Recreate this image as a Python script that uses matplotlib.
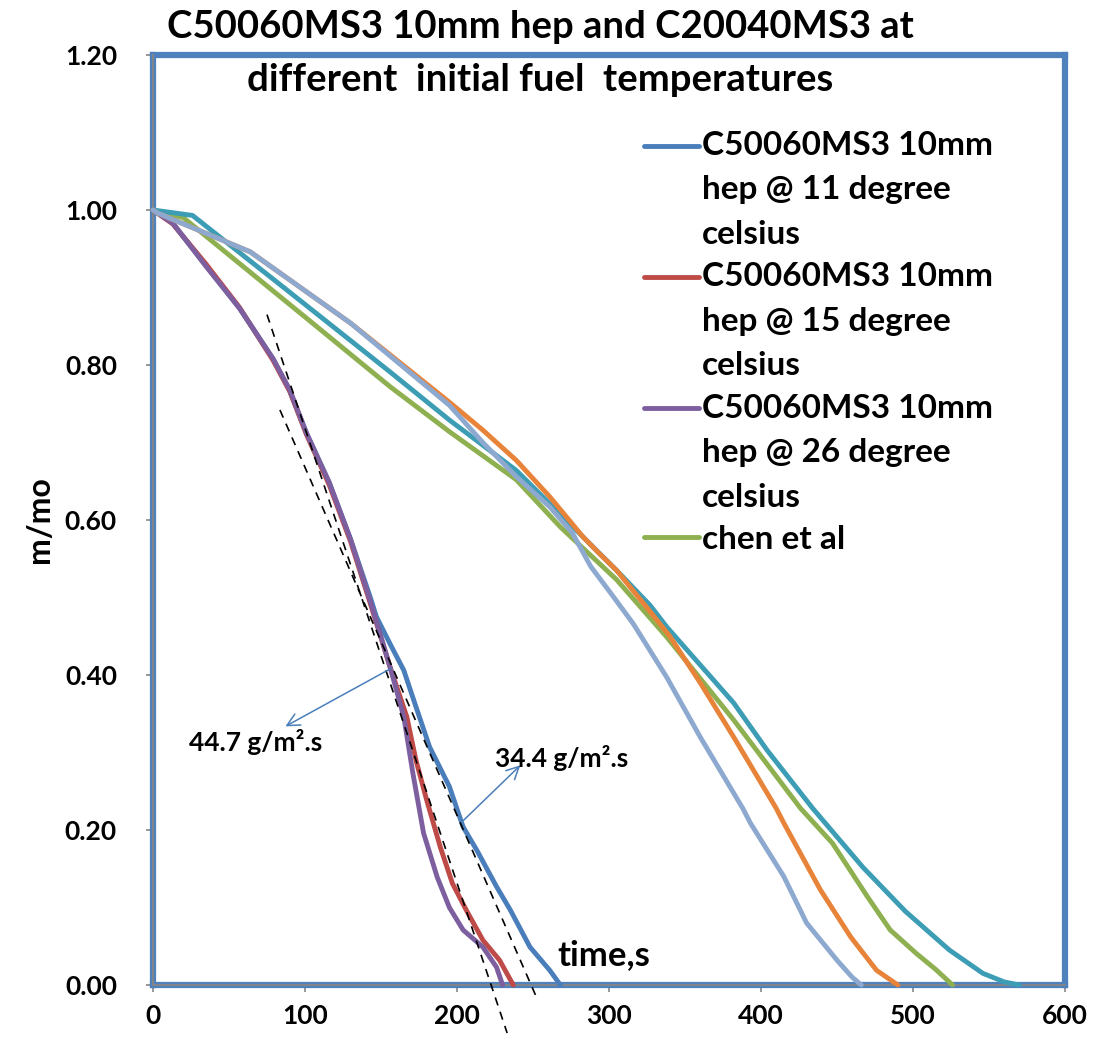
import matplotlib
matplotlib.use("Agg")
import matplotlib.pyplot as plt
from matplotlib.legend_handler import HandlerLine2D
import numpy as np

# ---------------- data ----------------
t_11 = [0, 13, 35, 57, 79, 90, 101, 116, 130, 143, 147, 156, 165, 173, 182, 195, 204, 213, 226, 235, 248, 261, 268]
m_11 = [1.0, 0.983, 0.928, 0.873, 0.808, 0.766, 0.712, 0.648, 0.575, 0.50, 0.475, 0.44, 0.406, 0.359, 0.307, 0.256, 0.204, 0.174, 0.127, 0.097, 0.049, 0.019, 0.0]

t_15 = [0, 13, 35, 57, 79, 90, 101, 116, 130, 143, 156, 167, 173, 180, 189, 197, 206, 217, 228, 237]
m_15 = [1.0, 0.982, 0.93, 0.874, 0.806, 0.766, 0.71, 0.645, 0.572, 0.492, 0.41, 0.346, 0.29, 0.239, 0.178, 0.131, 0.097, 0.058, 0.032, 0.0]

t_26 = [0, 13, 35, 57, 79, 90, 101, 116, 130, 143, 156, 165, 171, 178, 187, 195, 204, 217, 226, 230]
m_26 = [1.0, 0.983, 0.927, 0.873, 0.808, 0.768, 0.712, 0.648, 0.575, 0.495, 0.41, 0.346, 0.273, 0.196, 0.139, 0.10, 0.071, 0.049, 0.023, 0.0]

t_chen = [0, 20, 100, 156, 195, 239, 268, 305, 338, 382, 426, 447, 470, 485, 502, 515, 526]
m_chen = [1.0, 0.99, 0.862, 0.772, 0.714, 0.652, 0.591, 0.523, 0.449, 0.342, 0.228, 0.183, 0.114, 0.071, 0.041, 0.02, 0.0]

t_c2a = [0, 26, 86, 156, 195, 239, 283, 305, 327, 338, 382, 404, 434, 467, 495, 524, 546, 560, 570]
m_c2a = [1.0, 0.993, 0.90, 0.791, 0.729, 0.664, 0.578, 0.535, 0.49, 0.462, 0.364, 0.303, 0.228, 0.152, 0.095, 0.045, 0.015, 0.004, 0.0]

t_c2b = [0, 3, 64, 130, 195, 217, 239, 261, 283, 294, 305, 327, 340, 360, 382, 410, 415, 439, 459, 476, 490]
m_c2b = [1.0, 0.996, 0.946, 0.854, 0.752, 0.716, 0.677, 0.63, 0.578, 0.556, 0.535, 0.482, 0.45, 0.39, 0.32, 0.228, 0.209, 0.123, 0.062, 0.019, 0.0]

t_c2c = [0, 3, 64, 130, 195, 217, 239, 261, 276, 288, 301, 316, 338, 360, 388, 393, 415, 430, 450, 460, 466]
m_c2c = [1.0, 0.996, 0.946, 0.854, 0.748, 0.70, 0.656, 0.617, 0.583, 0.54, 0.506, 0.466, 0.397, 0.32, 0.228, 0.209, 0.14, 0.08, 0.032, 0.01, 0.0]

fitA_t = [75, 233]
fitA_m = [0.865, -0.062]
fitB_t = [83.5, 253]
fitB_m = [0.742, -0.019]

labels = ["C50060MS3 10mm\nhep @ 11 degree\ncelsius",
          "C50060MS3 10mm\nhep @ 15 degree\ncelsius",
          "C50060MS3 10mm\nhep @ 26 degree\ncelsius",
          "chen et al"]
title_lines = ["C50060MS3 10mm hep and C20040MS3 at",
               "different  initial fuel  temperatures"]
xticks = [0, 100, 200, 300, 400, 500, 600]
yticks = [0.0, 0.2, 0.4, 0.6, 0.8, 1.0, 1.2]
rate_labels = ["44.7 g/m\u00b2.s", "34.4 g/m\u00b2.s"]

# ---------------- style ----------------
FONT = ["Lato", "DejaVu Sans"]
plt.rcParams['font.family'] = FONT
plt.rcParams['font.weight'] = 'bold'

W, H = 1097, 1042
fig = plt.figure(figsize=(W / 100, H / 100), dpi=100)
x0, x1, y0, y1 = 153, 1065, 985, 55
ax = fig.add_axes([x0 / W, 1 - y0 / H, (x1 - x0) / W, (y0 - y1) / H])

c_blue = "#4A7EBB"
c_red = "#BE4B48"
c_purple = "#7D5FA0"
c_green = "#8FB050"
c_teal = "#3C9DB5"
c_orange = "#E8833A"
c_lblue = "#8EA9CF"
lw = 3.5

kw = dict(lw=lw, zorder=3, clip_on=False, solid_capstyle='round', solid_joinstyle='round')
h1, = ax.plot(t_11, m_11, color=c_blue, **kw)
h2, = ax.plot(t_15, m_15, color=c_red, **kw)
h3, = ax.plot(t_26, m_26, color=c_purple, **kw)
h4, = ax.plot(t_chen, m_chen, color=c_green, **kw)
ax.plot(t_c2a, m_c2a, color=c_teal, **kw)
ax.plot(t_c2b, m_c2b, color=c_orange, **kw)
ax.plot(t_c2c, m_c2c, color=c_lblue, **kw)

ax.plot(fitA_t, fitA_m, color='black', lw=1.2, ls=(0, (5, 4)), zorder=4, clip_on=False)
ax.plot(fitB_t, fitB_m, color='black', lw=1.2, ls=(0, (5, 4)), zorder=4, clip_on=False)

ax.annotate("", xy=(85.5, 0.332), xytext=(158, 0.41),
            arrowprops=dict(arrowstyle="->,head_length=0.9,head_width=0.45", color=c_blue, lw=1.1), zorder=5)
ax.annotate("", xy=(243, 0.286), xytext=(203, 0.21),
            arrowprops=dict(arrowstyle="->,head_length=0.9,head_width=0.45", color=c_blue, lw=1.1), zorder=5)
ax.text(24, 0.313, rate_labels[0], fontsize=19, fontweight='bold', ha='left', va='center', zorder=6)
ax.text(225, 0.293, rate_labels[1], fontsize=19, fontweight='bold', ha='left', va='center', zorder=6)
ax.text(266, 0.039, "time,s", fontsize=25, fontweight='bold', ha='left', va='center', zorder=6)

ax.set_xlim(0, 600)
ax.set_ylim(0, 1.2)
ax.set_xticks(xticks)
ax.set_xticklabels([str(v) for v in xticks])
ax.set_yticks(yticks)
ax.set_yticklabels([f"{v:.2f}" for v in yticks])
ax.tick_params(direction='out', length=5, width=1.2, color='#868686', labelsize=19, pad=21)
ax.tick_params(axis='x', pad=9)
for lab in ax.get_xticklabels() + ax.get_yticklabels():
    lab.set_fontweight('bold')
for s in ax.spines.values():
    s.set_color('#4F81BD')
    s.set_linewidth(4.5)
ax.axhline(0, color='#868686', lw=1.3, zorder=2.6, clip_on=False)
ax.axvline(0, color='#868686', lw=1.3, zorder=2.6, clip_on=False)

ax.set_ylabel("m/mo", fontsize=23, fontweight='bold', labelpad=8)

fig.text(540 / W, 1 - 27 / H, title_lines[0], fontsize=27.5, fontweight='bold', ha='center', va='center')
fig.text(540 / W, 1 - 80 / H, title_lines[1], fontsize=27.5, fontweight='bold', ha='center', va='center')


class TopLine(HandlerLine2D):
    """Put the legend line next to the first line of a wrapped label."""
    def __init__(self, shift=0.0, **kwargs):
        super().__init__(**kwargs)
        self.shift = shift

    def create_artists(self, legend, orig_handle, xdescent, ydescent, width, height, fontsize, trans):
        arts = super().create_artists(legend, orig_handle, xdescent, ydescent, width, height, fontsize, trans)
        for a in arts:
            a.set_ydata(np.asarray(a.get_ydata(), float) + self.shift)
            a.set_solid_capstyle('round')
        return arts


LS = 44.5 * 72 / 100  # one wrapped line, in points
hmap = {h1: TopLine(LS), h2: TopLine(LS), h3: TopLine(LS), h4: TopLine(0.0)}
leg = ax.legend([h1, h2, h3, h4], labels, loc='upper left', handler_map=hmap,
                bbox_to_anchor=(644 / W, 1 - 131 / H), bbox_transform=fig.transFigure,
                frameon=False, fontsize=24, handlelength=1.65, handletextpad=0.1,
                labelspacing=0.40, borderpad=0, borderaxespad=0)
for tx in leg.get_texts():
    tx.set_fontweight('bold')
    tx.set_linespacing(1.645)

fig.savefig("out.png", dpi=100)
